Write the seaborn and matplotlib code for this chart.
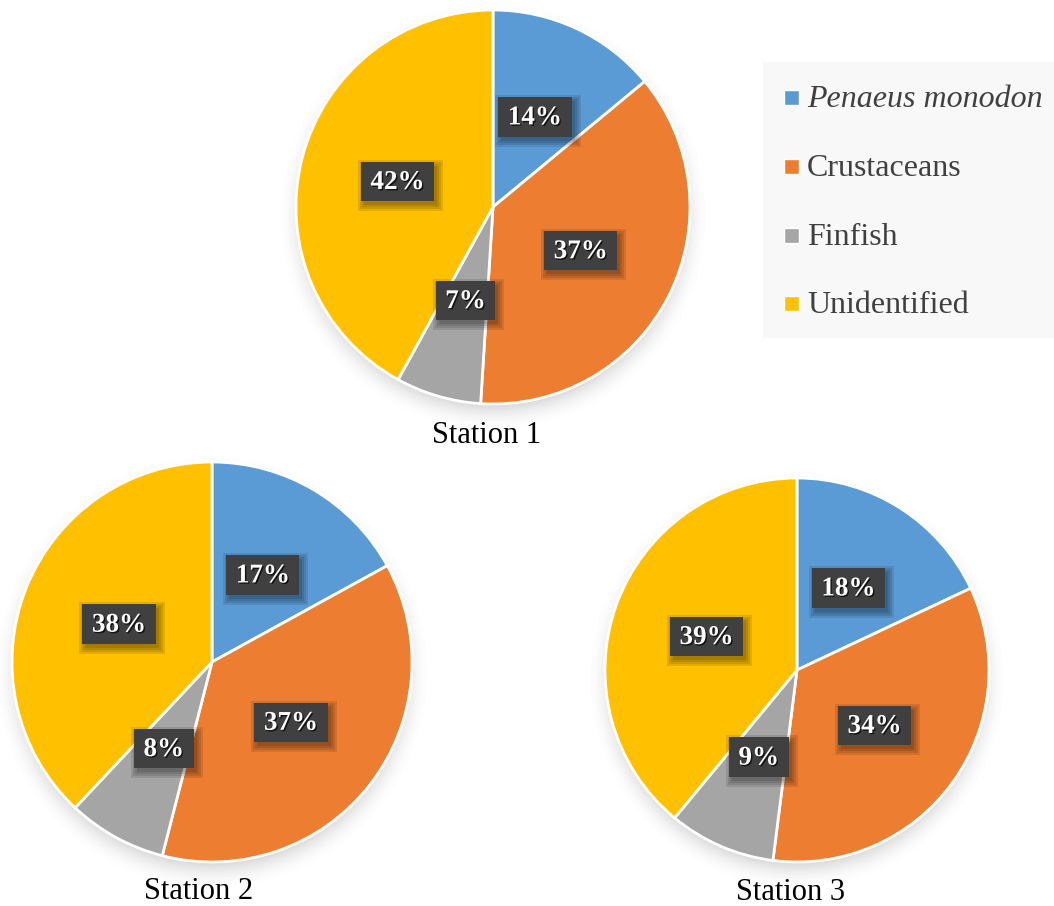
import numpy as np
import matplotlib
matplotlib.use("Agg")
import matplotlib.pyplot as plt
import matplotlib.patheffects as pe
from matplotlib.patches import Rectangle
import seaborn as sns

# Diet composition by station (percent of items)
categories = ["Penaeus monodon", "Crustaceans", "Finfish", "Unidentified"]
station_names = ["Station 1", "Station 2", "Station 3"]
station1 = [14, 37, 7, 42]
station2 = [17, 37, 8, 38]
station3 = [18, 34, 9, 39]

sns.set_theme(style="white")
plt.rcParams["font.family"] = ["Liberation Serif", "DejaVu Serif"]
colors = sns.color_palette(["#5B9BD5", "#ED7D31", "#A5A5A5", "#FFC000"])

W, H, DPI = 1054, 906, 100
fig = plt.figure(figsize=(W / DPI, H / DPI), dpi=DPI)
fig.patch.set_facecolor("white")


def px(x, y):
    return x / W, 1 - y / H


LIM = 1.25
value_labels = []  # (axes, text) pairs that get a dark box behind them


def draw_pie(values, cx, cy, r, name, lx, ly):
    half = r * LIM
    ax = fig.add_axes([(cx - half) / W, (H - cy - half) / H, 2 * half / W, 2 * half / H])
    ax.set_xlim(-LIM, LIM)
    ax.set_ylim(-LIM, LIM)
    ax.set_aspect("equal")
    ax.axis("off")

    # soft drop shadow under the disc
    g = np.linspace(-LIM, LIM, 400)
    X, Y = np.meshgrid(g, g)
    d = np.hypot(X, Y + 0.05)
    a = np.clip(1 - (d - 0.96) / 0.14, 0, 1) ** 2 * 0.26
    a[d < 0.96] = 0.26
    img = np.zeros((400, 400, 4))
    img[..., :3] = 0.45
    img[..., 3] = a
    ax.imshow(img, extent=(-LIM, LIM, -LIM, LIM), origin="lower", zorder=0)

    wedges, _ = ax.pie(values, colors=colors, startangle=90, counterclock=False,
                       radius=1.0, wedgeprops=dict(edgecolor="white", linewidth=2))
    for w in wedges:
        w.set_zorder(2)

    total = float(sum(values))
    start = 90.0
    for v in values:
        mid = np.deg2rad(start - v / total * 180.0)
        start -= v / total * 360.0
        x, y = 0.5 * np.cos(mid), 0.5 * np.sin(mid)
        t = ax.text(x, y, f"{v:d}%", ha="center", va="center", fontsize=19.5,
                    fontweight="bold", color="white", zorder=6,
                    path_effects=[pe.withSimplePatchShadow(offset=(1, -1),
                                                           shadow_rgbFace="black",
                                                           alpha=0.7)])
        value_labels.append((ax, t))

    fig.text(*px(lx, ly), name, ha="center", va="baseline", fontsize=22, color="black")


draw_pie(station1, 493, 207, 197, station_names[0], 487, 443)
draw_pie(station2, 212, 662, 200, station_names[1], 199, 899)
draw_pie(station3, 797, 670, 192, station_names[2], 791, 900)

# dark label boxes sized from the rendered text
fig.canvas.draw()
renderer = fig.canvas.get_renderer()
PADX, BOXH = 9.5, 39.5
for ax, t in value_labels:
    bb = t.get_window_extent(renderer)
    cxp = (bb.x0 + bb.x1) / 2
    cyp = (bb.y0 + bb.y1) / 2 + 1
    w = bb.width + 2 * PADX
    inv = ax.transData.inverted()
    # blurred shadow built from a few stacked translucent boxes
    for k in range(4):
        grow = 2 * k
        (x0, y0) = inv.transform((cxp - w / 2 + 3 - grow, cyp - BOXH / 2 - 4 - grow))
        (x1, y1) = inv.transform((cxp + w / 2 + 3 + grow, cyp + BOXH / 2 - 4 + grow))
        ax.add_patch(Rectangle((x0, y0), x1 - x0, y1 - y0, fc="black",
                               alpha=0.10, ec="none", zorder=4))
    (x0, y0) = inv.transform((cxp - w / 2, cyp - BOXH / 2))
    (x1, y1) = inv.transform((cxp + w / 2, cyp + BOXH / 2))
    ax.add_patch(Rectangle((x0, y0), x1 - x0, y1 - y0, fc="#404040", ec="none",
                           zorder=5))

# legend panel
fig.patches.append(Rectangle(px(763, 338), 291 / W, 276 / H, transform=fig.transFigure,
                             fc="#F8F8F8", ec="none", zorder=1))
legend_y = [97, 166, 235, 303]
for lab, col, yy in zip(categories, colors, legend_y):
    fig.patches.append(Rectangle(px(784, yy + 7.5), 15 / W, 15 / H,
                                 transform=fig.transFigure, fc=col, ec="white",
                                 lw=1, zorder=2))
    style = "italic" if lab == "Penaeus monodon" else "normal"
    fig.text(*px(807, yy + 10), lab, ha="left", va="baseline", fontsize=23,
             style=style, color="#404040", zorder=3)

fig.savefig("out.png", dpi=DPI, facecolor="white")
